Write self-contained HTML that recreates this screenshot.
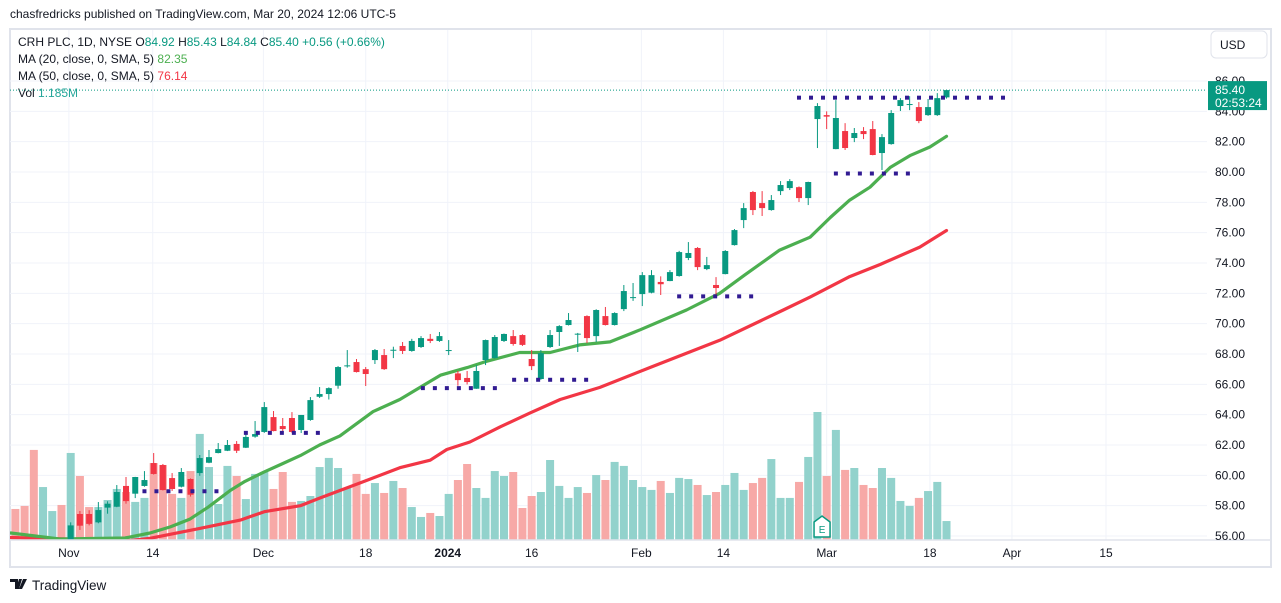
<!DOCTYPE html>
<html><head><meta charset="utf-8"><title>CRH PLC 1D chart</title>
<style>
html,body{margin:0;padding:0;background:#fff;width:1281px;height:603px;overflow:hidden}
svg{display:block;font-family:"Liberation Sans",Arial,sans-serif}
</style></head>
<body>
<svg id="chart" width="1281" height="603" viewBox="0 0 1281 603" xmlns="http://www.w3.org/2000/svg">
  <defs><clipPath id="pane"><rect x="10" y="30" width="1197" height="510"/></clipPath></defs>
  <text x="10" y="18" font-size="12" fill="#131722">chasfredricks published on TradingView.com, Mar 20, 2024 12:06 UTC-5</text>
  <rect x="10" y="29" width="1261" height="538" fill="#fff" stroke="#e0e3eb" stroke-width="2"/>
  <g id="grid"></g>
  <g id="plot" clip-path="url(#pane)"></g>
  <line x1="10" y1="540" x2="1271" y2="540" stroke="#e0e3eb" stroke-width="1.5"/>
  <g id="yaxis"></g>
  <g id="xaxis"></g>
  <g font-size="12">
    <text x="18" y="46"><tspan fill="#131722">CRH PLC, 1D, NYSE  O</tspan><tspan fill="#089981">84.92</tspan><tspan fill="#131722">  H</tspan><tspan fill="#089981">85.43</tspan><tspan fill="#131722">  L</tspan><tspan fill="#089981">84.84</tspan><tspan fill="#131722">  C</tspan><tspan fill="#089981">85.40  +0.56 (+0.66%)</tspan></text>
    <text x="18" y="63"><tspan fill="#131722">MA (20, close, 0, SMA, 5)  </tspan><tspan fill="#4caf50">82.35</tspan></text>
    <text x="18" y="80"><tspan fill="#131722">MA (50, close, 0, SMA, 5)  </tspan><tspan fill="#f23645">76.14</tspan></text>
    <text x="18" y="97"><tspan fill="#131722">Vol  </tspan><tspan fill="#26a69a">1.185M</tspan></text>
  </g>
  <rect x="1211" y="31" width="56" height="27" rx="5" fill="#fff" stroke="#e0e3eb"/>
  <text x="1220" y="49" font-size="12" fill="#131722">USD</text>
  <g>
    <path d="M10 579h8v10h-3v-7h-5zM19 579h3l-3 10h-3zM23 579h4l-5 10h-3z" fill="#131722"/>
    <text x="32" y="590" font-size="13.5" fill="#131722">TradingView</text>
  </g>
</svg>
<script>
// ---- data ----
const opens = [55.3,55.3,55.3,55.0,55.0,55.3,
55.5,57.45,57.45,56.9,57.87,57.93,59.3,58.79,59.3,60.81,60.68,59.82,59.25,59.76,60.15,60.83,61.47,61.62,62.07,61.82,62.55,62.86,63.84,63.25,63.78,62.99,63.65,65.18,65.36,65.91,
67.2,67.47,67.0,67.6,67.93,68.26,68.53,68.2,68.46,69.0,68.86,68.2,66.72,66.42,65.71,67.6,67.73,68.86,69.18,69.25,67.67,66.35,68.46,69.45,69.91,69.3,70.5,69.18,70.5,69.91,
70.96,71.7,71.95,72.04,72.75,72.81,73.14,74.33,74.99,73.6,72.55,73.27,75.18,76.83,78.68,77.95,77.49,78.74,78.94,79.0,78.28,83.49,83.75,81.51,82.7,82.24,82.7,82.83,81.25,81.84,
84.35,84.46,84.28,83.75,83.75,84.92];
const highs = [55.5,55.5,55.5,55.5,55.5,55.5,
56.9,57.65,57.7,58.24,58.29,59.36,59.89,59.9,60.28,61.47,60.75,60.15,60.48,59.8,61.34,61.67,62.13,62.33,62.26,62.92,63.58,64.83,64.24,63.78,64.17,63.98,65.16,65.82,65.8,67.2,
68.26,67.67,67.14,68.33,68.33,68.48,68.79,69.0,69.18,69.32,69.45,68.92,66.88,66.88,67.27,68.95,69.25,69.35,69.58,69.3,68.26,68.26,69.58,69.9,70.7,69.39,70.55,70.95,71.1,70.75,
72.55,72.68,73.4,73.53,73.12,73.53,74.8,75.38,75.05,74.4,73.07,74.85,76.24,77.95,78.75,78.74,78.48,79.4,79.53,79.05,79.36,84.54,84.0,84.74,83.22,82.9,82.96,83.36,82.5,84.08,
84.87,85.0,84.61,84.81,85.2,85.43];
const lows = [54.8,54.8,54.8,54.8,54.8,54.8,
55.0,56.4,56.7,56.84,57.47,57.9,58.13,58.5,59.25,60.05,59.0,58.97,59.2,58.6,59.97,60.8,61.45,61.6,61.47,61.8,62.48,62.8,62.9,62.92,62.8,62.79,63.6,65.1,65.0,65.71,
67.1,66.78,65.89,67.34,66.95,67.73,68.0,68.15,68.4,68.72,68.8,67.93,65.91,65.99,65.7,67.27,67.7,68.79,68.55,68.53,66.94,66.3,68.4,68.53,69.88,68.13,68.72,68.79,69.88,69.88,
70.83,71.5,71.16,72.0,71.89,72.8,73.1,74.19,73.53,73.53,71.89,73.25,75.15,76.3,77.16,77.1,77.45,78.48,78.81,78.02,77.82,81.58,82.83,81.5,81.45,81.97,82.17,81.1,80.13,81.8,
84.02,84.08,83.22,83.7,83.7,84.84];
const closes = [55.0,55.0,55.0,55.3,55.3,55.0,
56.7,56.68,56.8,57.71,58.13,58.9,58.3,59.89,59.69,60.09,59.03,59.1,60.22,58.72,61.14,61.2,61.73,62.0,61.62,62.53,62.72,64.5,62.92,63.05,62.86,63.98,64.96,65.36,65.75,67.14,
67.25,66.81,66.68,68.26,67.0,68.28,68.2,68.86,69.05,68.86,69.18,68.26,66.28,66.15,66.88,68.92,69.12,69.32,68.66,68.6,67.2,68.06,69.25,69.84,70.24,69.34,69.05,70.9,69.91,70.7,
72.15,71.75,73.2,73.2,72.6,73.4,74.72,74.66,73.73,73.86,72.35,74.79,76.17,77.62,77.49,77.62,78.15,79.14,79.4,78.28,79.34,84.35,83.65,83.56,81.58,82.57,82.5,81.12,82.3,83.89,
84.74,84.48,83.36,84.28,84.87,85.40];
const volumes = [1.94,2.13,5.63,3.31,1.81,2.19,
5.44,4.0,2.06,2.06,2.5,3.19,3.0,2.38,2.63,4.81,4.69,2.88,2.63,4.31,6.63,4.56,2.25,4.63,4.0,2.56,4.13,4.25,3.19,4.25,2.38,2.44,2.75,4.56,5.13,4.5,
3.25,4.13,2.88,3.56,2.94,3.69,3.25,2.06,1.44,1.69,1.5,2.88,3.75,4.75,3.25,2.63,4.31,4.0,4.25,2.0,2.75,3.0,5.0,3.38,2.63,3.31,2.94,4.06,3.75,4.88,
4.63,3.75,3.31,3.13,3.69,2.94,3.88,3.81,3.44,2.81,3.0,3.44,4.19,3.13,3.56,3.88,5.06,2.63,2.63,3.63,5.19,8.0,4.0,6.88,4.38,4.5,3.44,3.25,4.5,3.88,
2.44,2.13,2.63,3.06,3.63,1.185];
// moving average readings (bar index relative to Nov 1 = 0, value)
const ma20Idx = [-6.5,-1.2,5.9,8.6,10.8,12.9,14.9,17.3,18.9,20.9,22.9,24.9,27.0,29.2,32.8,35.7,40.1,43,45,48.7,52,55.2,58.5,61.8,66.8,70.4,73.1,76.9,80.2,82.4,84.5,86.7,88.9,91.1,93.2,95];
const ma20Val = [56.2,55.8,55.87,56.2,56.6,57.1,57.9,59.0,59.6,60.2,60.75,61.3,62.0,62.6,64.2,65.0,66.6,67.1,67.5,68.1,68.1,68.6,68.8,69.6,70.9,72.0,73.2,74.85,75.7,77.0,78.15,79.0,80.3,81.1,81.65,82.35];
const ma50Idx = [-6.5,6.4,8.6,14,18.4,21,24.9,27,31.4,35.7,39,40.8,43.3,46.6,49.8,53.1,57.4,62.8,70.4,77.3,80.2,84.5,87.8,92.1,95];
const ma50Val = [55.9,55.7,55.85,56.5,57.05,57.6,58.0,58.5,59.5,60.5,61.0,61.7,62.2,63.2,64.1,65.0,65.8,67.1,68.9,70.9,71.75,73.1,73.9,75.05,76.14];
// dotted level markers: price, start bar, end bar
const levelPrice = [58.95,62.8,65.75,66.3,71.8,79.9,84.9];
const levelFrom = [8,19,38.2,48.1,66,83,79];
const levelTo = [16,27,46.2,56.1,74,91,101.6];
const priceTicks = [86,84,82,80,78,76,74,72,70,68,66,64,62,60,58,56];
const timeLabels = ["Nov","14","Dec","18","2024","16","Feb","14","Mar","18","Apr","15"];
const timeIdx = [-0.2,8.9,20.9,32,40.9,50,61.9,70.8,82,93.2,102.1,112.3];
const lastPrice = 85.40;

// ---- scales ----
const NS = "http://www.w3.org/2000/svg";
const X0 = 70.7, STEP = 9.219;
function xs(i){ return X0 + STEP*i; }
function ys(p){ return 536 - (p-56)*15.167; }
function yv(v){ return 540 - v*16; }
function mk(tag, attrs, parent){
  const e = document.createElementNS(NS, tag);
  for (const k in attrs) e.setAttribute(k, attrs[k]);
  parent.appendChild(e); return e;
}
const grid = document.getElementById('grid');
const plot = document.getElementById('plot');
const yaxis = document.getElementById('yaxis');
const xaxis = document.getElementById('xaxis');

priceTicks.forEach(p=>{
  const y = ys(p);
  const g = mk('line',{x1:10,x2:1207,y1:y,y2:y,stroke:'#f0f3fa','stroke-width':1},grid);
  
  
  const t = mk('text',{x:1215,y:y+4,'font-size':12,fill:'#131722'},yaxis);
  t.textContent = p.toFixed(2);
  
  
});
timeLabels.forEach((lab,k)=>{
  const x = xs(timeIdx[k]);
  const g = mk('line',{x1:x,x2:x,y1:30,y2:540,stroke:'#f0f3fa','stroke-width':1},grid);
  
  
  const t = mk('text',{x:x,y:557,'font-size':12,fill:'#131722','text-anchor':'middle','font-weight':lab==='2024'?'bold':'normal'},xaxis);
  t.textContent = lab;
  
  
});

// volume
volumes.forEach((v,k)=>{
  const i = k-6, up = closes[k] >= opens[k];
  const r = mk('rect',{x:xs(i)-4,y:yv(v),width:8,height:540-yv(v),fill:up?'#92d2cc':'#f7a9a7'},plot);
  
  
});
// MA lines
function maPath(idx, val, color, name){
  const d = idx.map((i,k)=>(k?'L':'M')+xs(i).toFixed(1)+' '+ys(val[k]).toFixed(1)).join(' ');
  const p = mk('path',{d:d,fill:'none',stroke:color,'stroke-width':3.2,'stroke-linejoin':'round','stroke-linecap':'round'},plot);
  
  
}
maPath(ma50Idx, ma50Val, '#f23645', 'ma50-line');
maPath(ma20Idx, ma20Val, '#4caf50', 'ma20-line');
// candles
opens.forEach((o,k)=>{
  const i = k-6, c = closes[k], up = c >= o, col = up ? '#089981' : '#f23645';
  const x = xs(i);
  const w = mk('line',{x1:x,x2:x,y1:ys(highs[k]),y2:ys(lows[k]),stroke:col,'stroke-width':1},plot);
  
  
  const top = ys(Math.max(o,c)), bot = ys(Math.min(o,c));
  const b = mk('rect',{x:x-3,y:top,width:6,height:Math.max(1,bot-top),fill:col},plot);
  
  
});
// level dots
levelPrice.forEach((p,k)=>{
  const y = ys(p);
  for (let x = xs(levelFrom[k]); x <= xs(levelTo[k]); x += 12){
    const d = mk('rect',{x:x-2,y:y-2,width:4,height:4,fill:'#311b92'},plot);
    
    
  }
});
// last price line + label
const ly = ys(lastPrice);
const pl = mk('line',{x1:10,x2:1207,y1:ly,y2:ly,stroke:'#089981','stroke-width':1,'stroke-dasharray':'1 2'},document.getElementById('chart'));


const lb = mk('rect',{x:1208,y:ly-9,width:59,height:29,fill:'#089981'},yaxis);


const lt = mk('text',{x:1215,y:ly+4,'font-size':12,fill:'#fff'},yaxis);
lt.textContent = lastPrice.toFixed(2);


const ct = mk('text',{x:1215,y:ly+17,'font-size':12,fill:'#fff'},yaxis);
ct.textContent = '02:53:24';


// earnings marker
const ex = xs(81.5);
const em = mk('path',{d:`M${ex-8} ${522} L${ex} ${516} L${ex+8} ${522} L${ex+8} ${537} L${ex-8} ${537} Z`,fill:'#fff',stroke:'#089981','stroke-width':1.5},plot);


const et = mk('text',{x:ex,y:533,'font-size':10,fill:'#089981','text-anchor':'middle'},plot);
et.textContent = 'E';


</script>
</body></html>
